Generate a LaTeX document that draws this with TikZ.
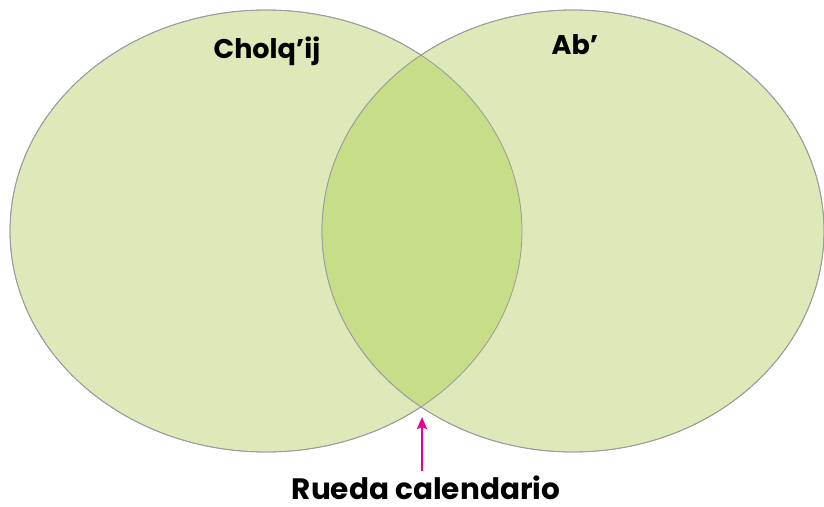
\documentclass[tikz,border=0pt]{standalone}
\usepackage{fontspec}
\setmainfont{Poppins}
\usetikzlibrary{arrows.meta}
\definecolor{venn}{HTML}{DDE9B8}
\definecolor{venndark}{HTML}{C8DD88}
\definecolor{vline}{HTML}{9A9A9A}
\definecolor{pink}{HTML}{EC008C}
\begin{document}
\begin{tikzpicture}[x=1pt,y=-1pt,
  set/.style={draw=vline,line width=0.8pt,fill=venn},
  lbl/.style={font=\fontsize{27}{30}\selectfont\bfseries,text=black,inner sep=0pt},
  biglbl/.style={font=\fontsize{29.5}{32}\selectfont\bfseries,text=black,inner sep=0pt}]
\useasboundingbox (0,0) rectangle (824,506);
\path[set] (266,231) ellipse [x radius=256,y radius=221];
\path[set] (573,231) ellipse [x radius=251,y radius=221];
\begin{scope}
  \clip (266,231) ellipse [x radius=256,y radius=221];
  \fill[venndark] (573,231) ellipse [x radius=251,y radius=221];
\end{scope}
\draw[vline,line width=0.8pt] (266,231) ellipse [x radius=256,y radius=221];
\draw[vline,line width=0.8pt] (573,231) ellipse [x radius=251,y radius=221];
\node[lbl,anchor=base] (chol) at (267,58) {Cholq’ij};
\node[lbl,anchor=base] (ab) at (575,54) {Ab’};
\node[biglbl,anchor=base] (rueda) at (426,499) {Rueda calendario};
\coordinate (tip) at (422,417);
\coordinate (tail) at (422,471);
\draw[pink,line width=2.6pt,-{Stealth[length=12pt,width=10pt,inset=2pt]}] (tail) -- (tip);
\end{tikzpicture}
\end{document}
